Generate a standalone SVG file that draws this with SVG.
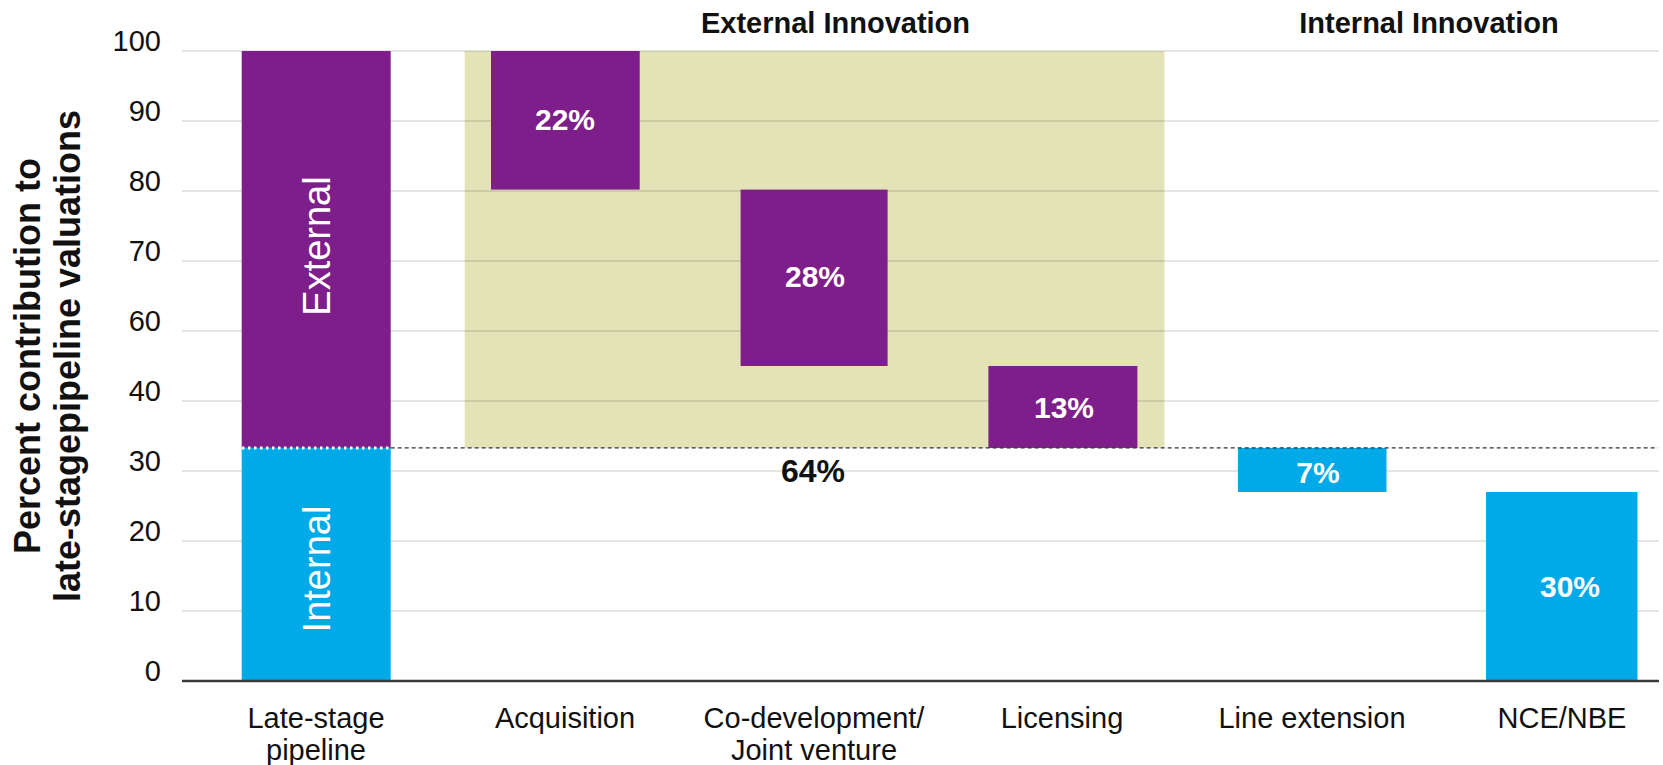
<svg xmlns="http://www.w3.org/2000/svg" width="1663" height="765" viewBox="0 0 1663 765">
<style>
.bg{fill:#ffffff}
.grid{stroke:#000;stroke-opacity:0.1;stroke-width:2}
.axis{stroke:#3a3a3a;stroke-width:2.5}
.purple{fill:#7E1E8A}
.blue{fill:#00A9E7}
.band{fill:#E4E2B7}
.tick{font-family:"Liberation Sans",Arial,sans-serif;font-size:29px;fill:#111;text-anchor:end}
.ytitle{font-family:"Liberation Sans",Arial,sans-serif;font-size:36px;font-weight:bold;fill:#111;text-anchor:middle}
.head{font-family:"Liberation Sans",Arial,sans-serif;font-size:29px;font-weight:bold;fill:#111;text-anchor:middle}
.val{font-family:"Liberation Sans",Arial,sans-serif;font-size:30px;font-weight:bold;fill:#fff;text-anchor:middle}
.vert{font-family:"Liberation Sans",Arial,sans-serif;font-size:38px;fill:#fff;text-anchor:middle}
.xl{font-family:"Liberation Sans",Arial,sans-serif;font-size:29px;fill:#111;text-anchor:middle}
.tot{font-family:"Liberation Sans",Arial,sans-serif;font-size:32px;font-weight:bold;fill:#111;text-anchor:middle}
</style>
<rect class="bg" x="0" y="0" width="1663" height="765"/>
<g id="band-external">
<rect class="band" x="464.7" y="51" width="699.7" height="396.9"/>
</g>
<g id="grid">
<line class="grid" x1="182" y1="51" x2="1659" y2="51"/>
<line class="grid" x1="182" y1="121" x2="1659" y2="121"/>
<line class="grid" x1="182" y1="191" x2="1659" y2="191"/>
<line class="grid" x1="182" y1="261" x2="1659" y2="261"/>
<line class="grid" x1="182" y1="331" x2="1659" y2="331"/>
<line class="grid" x1="182" y1="401" x2="1659" y2="401"/>
<line class="grid" x1="182" y1="471" x2="1659" y2="471"/>
<line class="grid" x1="182" y1="541" x2="1659" y2="541"/>
<line class="grid" x1="182" y1="611" x2="1659" y2="611"/>
</g>
<g id="y-axis">
<text class="tick" x="161" y="51">100</text>
<text class="tick" x="161" y="121">90</text>
<text class="tick" x="161" y="191">80</text>
<text class="tick" x="161" y="261">70</text>
<text class="tick" x="161" y="331">60</text>
<text class="tick" x="161" y="401">40</text>
<text class="tick" x="161" y="471">30</text>
<text class="tick" x="161" y="541">20</text>
<text class="tick" x="161" y="611">10</text>
<text class="tick" x="161" y="681">0</text>
<text class="ytitle" transform="translate(40,356) rotate(-90)">Percent contribution to</text>
<text class="ytitle" transform="translate(80,356) rotate(-90)">late-stagepipeline valuations</text>
</g>
<g id="headers">
<text class="head" x="835.5" y="33">External Innovation</text>
<text class="head" x="1429" y="33">Internal Innovation</text>
</g>
<g id="late-stage">
<rect class="purple" x="241.7" y="51" width="149" height="396.9"/>
<rect class="blue" x="241.7" y="447.9" width="149" height="233.1"/>
<line x1="242" y1="447.9" x2="390.7" y2="447.9" stroke="#ffffff" stroke-width="3" stroke-dasharray="2.5 3.5"/>
<text class="vert" transform="translate(330,246) rotate(-90)">External</text>
<text class="vert" transform="translate(330,569) rotate(-90)">Internal</text>
<text class="xl" x="316" y="728">Late-stage</text>
<text class="xl" x="316" y="760">pipeline</text>
</g>
<g id="acquisition">
<rect class="purple" x="491" y="51" width="148.7" height="138.6"/>
<text class="val" x="565" y="130">22%</text>
<text class="xl" x="565" y="728">Acquisition</text>
</g>
<g id="codevelopment">
<rect class="purple" x="740.6" y="189.6" width="147" height="176.4"/>
<text class="val" x="815" y="287">28%</text>
<text class="xl" x="814" y="728">Co-development/</text>
<text class="xl" x="814" y="760">Joint venture</text>
</g>
<g id="licensing">
<rect class="purple" x="988.4" y="366" width="149" height="81.9"/>
<text class="val" x="1064" y="417.5">13%</text>
<text class="xl" x="1062" y="728">Licensing</text>
</g>
<g id="line-extension">
<rect class="blue" x="1237.9" y="447.9" width="148.6" height="44.1"/>
<text class="val" x="1318" y="482.7">7%</text>
<text class="xl" x="1312" y="728">Line extension</text>
</g>
<g id="nce-nbe">
<rect class="blue" x="1486" y="492" width="151.5" height="189"/>
<text class="val" x="1570" y="596.7">30%</text>
<text class="xl" x="1562" y="728">NCE/NBE</text>
</g>
<g id="connectors">
<line x1="390.7" y1="447.9" x2="1658" y2="447.9" stroke="#333" stroke-width="1.2" stroke-dasharray="4 3"/>
</g>
<g id="total">
<text class="tot" x="813" y="482">64%</text>
</g>
<line class="axis" x1="182" y1="681" x2="1659" y2="681"/>
</svg>
